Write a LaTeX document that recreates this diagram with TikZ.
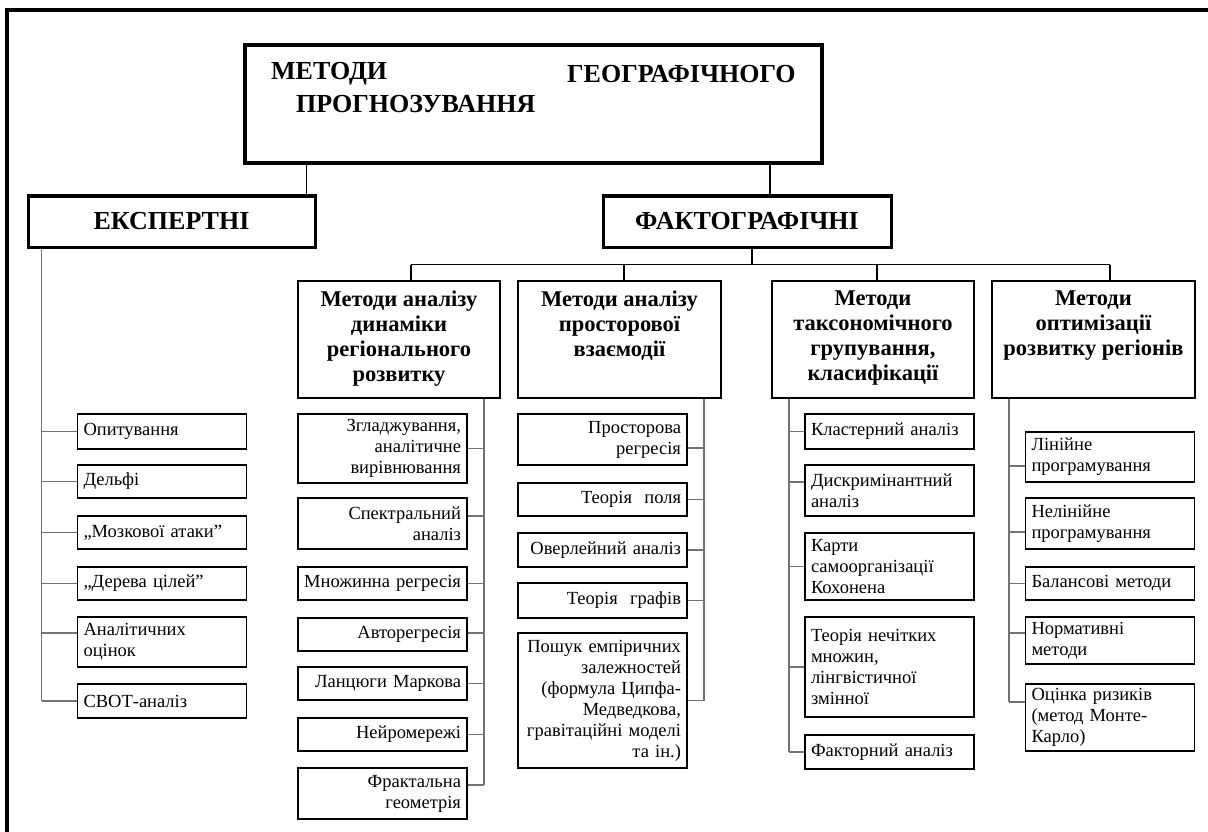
\documentclass[tikz,border=0pt]{standalone}
\usepackage{fontspec}
\setmainfont{Liberation Serif}

\begin{document}
\begin{tikzpicture}[x=1pt, y=-1pt, line join=miter,
    frame/.style={line width=3.5pt},
    titlebox/.style={draw, line width=4pt, minimum width=577, minimum height=118},
    titletext/.style={anchor=west, inner sep=0pt, font=\bfseries\fontsize{26}{30}\selectfont},
    topbox/.style={draw, line width=3pt, minimum width=287, minimum height=51, font=\bfseries\fontsize{26}{30}\selectfont},
    hdr/.style={draw, line width=1.5pt, minimum width=202, minimum height=117},
    hdtext/.style={anchor=north, align=center, inner sep=0pt, font=\bfseries\fontsize{22.5}{25}\selectfont},
    box/.style={draw, line width=1.3pt, text width=157pt, inner xsep=6pt, inner ysep=0pt,
      font=\fontsize{18.5}{21}\selectfont},
    lbox/.style={box, align=left},
    rbox/.style={box, align=right},
    link/.style={line width=1.5pt},
    branch/.style={line width=1.5pt, black!55}]

  \useasboundingbox (0,0) rectangle (1208,832);

  % outer frame (only top and left edges are in view)
  \draw[frame] (7,832) -- (7,10) -- (1208,10);

  % main box
  \node[titlebox] (title) at (533.5,104) {};
  \node[titletext] (tline1) at (271,74) {МЕТОДИ};
  \node[titletext] (tline2) at (567,74) {ГЕОГРАФІЧНОГО};
  \node[titletext] (tline3) at (296,104) {ПРОГНОЗУВАННЯ};

  % two main groups
  \node[topbox] (exp) at (171.5,221.5) {ЕКСПЕРТНІ};
  \node[topbox, minimum width=288] (fakt) at (747,221.5) {ФАКТОГРАФІЧНІ};

  \draw[link] ([xshift=-10pt]exp.north east) -- ([xshift=-10pt]exp.north east |- title.south);
  \draw[link] ([xshift=23pt]fakt.north) -- ([xshift=23pt]fakt.north |- title.south);

  % factographic subgroups
  \node[hdr] (dyn) at (399,339.5) {};
  \node[hdr, minimum width=203] (spa) at (619.5,339.5) {};
  \node[hdr] (tax) at (873,339.5) {};
  \node[hdr, minimum width=203] (opt) at (1093.5,339.5) {};

  \node[hdtext] (dyntext) at ([yshift=-10pt]dyn.north) {Методи аналізу\\динаміки\\регіонального\\розвитку};
  \node[hdtext] (spatext) at ([yshift=-10pt]spa.north) {Методи аналізу\\просторової\\взаємодії};
  \node[hdtext] (taxtext) at ([yshift=-10pt]tax.north) {Методи\\таксономічного\\групування,\\класифікації};
  \node[hdtext] (opttext) at ([yshift=-10pt]opt.north) {Методи\\оптимізації\\розвитку регіонів};

  \draw[link] ([xshift=5pt]fakt.south) -- ++(0,16) coordinate (fork);
  \draw[link] ([xshift=12pt]dyn.north |- fork) -- ([xshift=16.5pt]opt.north |- fork);
  \foreach \n/\dx in {dyn/12, spa/4.5, tax/4, opt/16.5}
    \draw[link] ([xshift=\dx pt]\n.north) -- ([xshift=\dx pt]\n.north |- fork);

  % expert methods
  \node[lbox, minimum height=35] (opyt) at (162,431.5) {Опитування};
  \node[lbox, minimum height=33] (delfi) at (162,481.5) {Дельфі};
  \node[lbox, minimum height=33] (mozok) at (162,532.5) {„Мозкової атаки”};
  \node[lbox, minimum height=33] (derevo) at (162,583.5) {„Дерева цілей”};
  \node[lbox, minimum height=50] (analit) at (162,642) {Аналітичних\\оцінок};
  \node[lbox, minimum height=34] (svot) at (162,701) {СВОТ-аналіз};

  \coordinate (expline) at ([xshift=15pt]exp.south west);
  \draw[branch] (expline) -- (expline |- svot.west);
  \foreach \n/\dy in {opyt/0, delfi/0, mozok/0, derevo/0, analit/9, svot/0}
    \draw[branch] ([yshift=\dy pt]\n.west) -- ([yshift=\dy pt]\n.west -| expline);

  % dynamics of regional development
  \node[rbox, minimum height=69] (zglad) at (382.5,448.5) {Згладжування,\\аналітичне\\вирівнювання};
  \node[rbox, minimum height=51] (spektr) at (382.5,523.5) {Спектральний\\аналіз};
  \node[rbox, minimum height=33] (mnozh) at (382.5,583.5) {Множинна регресія};
  \node[rbox, minimum height=33] (avtoreg) at (382.5,634.5) {Авторегресія};
  \node[rbox, minimum height=33] (markov) at (382.5,683.5) {Ланцюги Маркова};
  \node[rbox, minimum height=33] (neiro) at (382.5,734.5) {Нейромережі};
  \node[rbox, minimum height=51] (fraktal) at (382.5,793.5) {Фрактальна\\геометрія};

  \coordinate (dynline) at ([xshift=85pt]dyn.south);
  \draw[branch] (dynline) -- ([yshift=8.5pt]fraktal.east -| dynline);
  \foreach \n/\dy in {zglad/0, spektr/7.5, mnozh/0, avtoreg/1.5, markov/0, neiro/0, fraktal/8.5}
    \draw[branch] ([yshift=\dy pt]\n.east) -- ([yshift=\dy pt]\n.east -| dynline);

  % spatial interaction
  \node[rbox, minimum height=51] (prostreg) at (602.5,439.5) {Просторова\\регресія};
  \node[rbox, minimum height=33] (pole) at (602.5,499.5) {Теорія~~поля};
  \node[rbox, minimum height=34] (overlei) at (602.5,550) {Оверлейний аналіз};
  \node[rbox, minimum height=35] (grafy) at (602.5,600.5) {Теорія~~графів};
  \node[rbox, minimum height=135] (poshuk) at (602.5,700.5) {Пошук емпіричних\\залежностей\\(формула Ципфа-\\Медведкова,\\гравітаційні моделі\\та ін.)};

  \coordinate (spaline) at ([xshift=84.5pt]spa.south);
  \draw[branch] (spaline) -- (poshuk.east -| spaline);
  \foreach \n/\dy in {prostreg/-8.5, pole/0, overlei/0, grafy/0, poshuk/0}
    \draw[branch] ([yshift=\dy pt]\n.east) -- ([yshift=\dy pt]\n.east -| spaline);

  % taxonomic grouping
  \node[lbox, minimum height=35] (klaster) at (889.5,431.5) {Кластерний аналіз};
  \node[lbox, minimum height=51] (dyskr) at (889.5,490.5) {Дискримінантний\\аналіз};
  \node[lbox, minimum height=67] (kohonen) at (889.5,566.5) {Карти\\самоорганізації\\Кохонена};
  \node[lbox, minimum height=100] (nechitki) at (889.5,667) {Теорія нечітких\\множин,\\лінгвістичної\\змінної};
  \node[lbox, minimum height=34] (faktor) at (889.5,752) {Факторний аналіз};

  \coordinate (taxline) at ([xshift=-84pt]tax.south);
  \draw[branch] (taxline) -- (faktor.west -| taxline);
  \foreach \n/\dy in {klaster/0, dyskr/8.5, kohonen/0, nechitki/0, faktor/0}
    \draw[branch] ([yshift=\dy pt]\n.west) -- ([yshift=\dy pt]\n.west -| taxline);

  % optimisation
  \node[lbox, minimum height=50] (linprog) at (1110,457) {Лінійне\\програмування};
  \node[lbox, minimum height=51] (nelinprog) at (1110,523.5) {Нелінійне\\програмування};
  \node[lbox, minimum height=33] (balans) at (1110,583.5) {Балансові методи};
  \node[lbox, minimum height=47] (normat) at (1110,640.5) {Нормативні\\методи};
  \node[lbox, minimum height=67] (ryzyk) at (1110,717.5) {Оцінка ризиків\\(метод Монте-\\Карло)};

  \coordinate (optline) at ([xshift=-84.5pt]opt.south);
  \draw[branch] (optline) -- ([yshift=15.5pt]ryzyk.west -| optline);
  \foreach \n/\dy in {linprog/-9, nelinprog/-8.5, balans/0, normat/7.5, ryzyk/15.5}
    \draw[branch] ([yshift=\dy pt]\n.west) -- ([yshift=\dy pt]\n.west -| optline);

\end{tikzpicture}
\end{document}
